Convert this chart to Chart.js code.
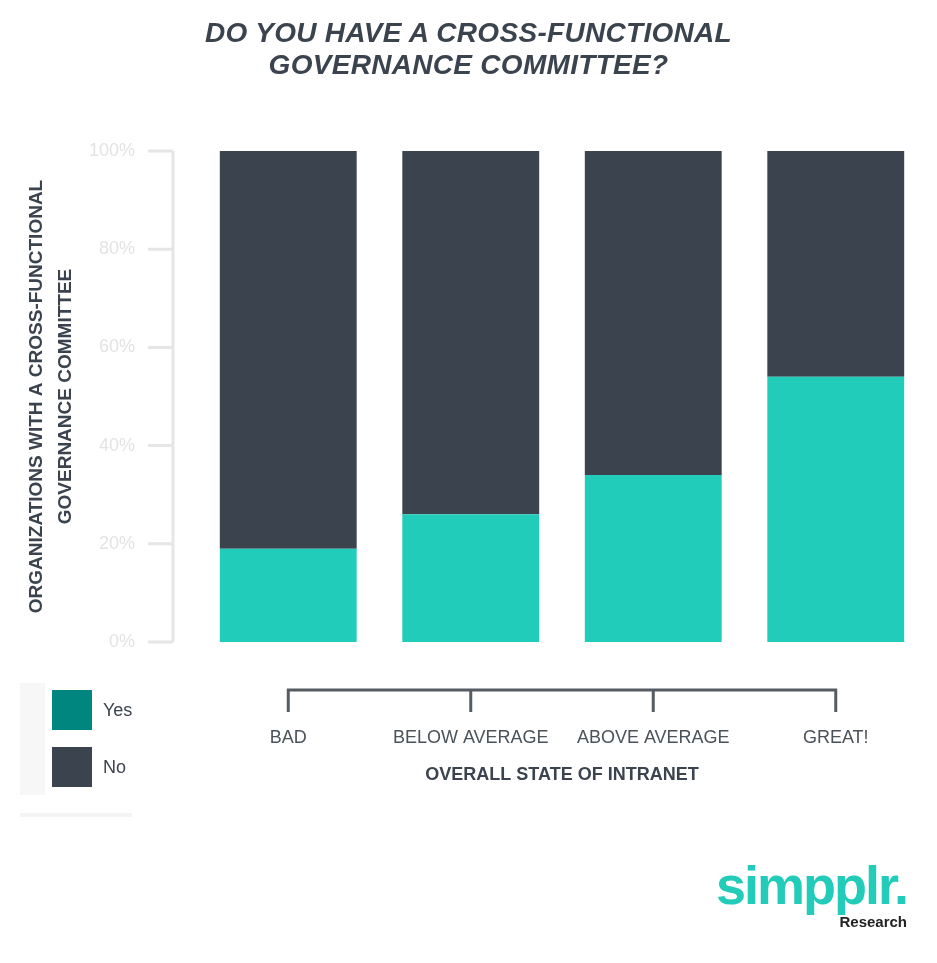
<!DOCTYPE html>
<html>
<head>
<meta charset="utf-8">
<script src="https://cdn.jsdelivr.net/npm/chart.js@4/dist/chart.umd.min.js"></script>
<style>
  body { margin: 0; background: #fff; font-family: "Liberation Sans", Arial, sans-serif; }
  #wrap { position: relative; width: 937px; height: 963px; }
  #chart { position: absolute; left: 0; top: 0; }
  h1 { position: absolute; top: 17px; left: 0; width: 937px; margin: 0; text-align: center;
       font: italic bold 28px "Liberation Sans", Arial, sans-serif; color: #3b444e; line-height: 32px; letter-spacing: 0.3px; }
  .panel { position: absolute; left: 20px; top: 683px; width: 25px; height: 112px; background: #f7f7f7; }
  .rule { position: absolute; left: 20px; top: 813px; width: 112px; height: 4px; background: #f4f4f4; }
  .sw { position: absolute; left: 52px; width: 40px; height: 40px; }
  .lt { position: absolute; left: 103px; font-size: 18px; color: #3b444e; }
  .logo { position: absolute; right: 30px; top: 855px; text-align: right; }
  .logo .s { font: bold 54px "Liberation Sans", Arial, sans-serif; color: #22ccb9; letter-spacing: -2px; line-height: 60px; }
  .logo .r { font: bold 15px "Liberation Sans", Arial, sans-serif; color: #222; margin-top: -2px; }
</style>
</head>
<body>
<div id="wrap">
  <canvas id="chart" width="937" height="963"></canvas>
  <h1>DO YOU HAVE A CROSS-FUNCTIONAL<br>GOVERNANCE COMMITTEE?</h1>
  <div class="panel"></div>
  <div class="rule"></div>
  <div class="sw" style="top:690px;background:#00857f"></div>
  <div class="lt" style="top:700px">Yes</div>
  <div class="sw" style="top:747px;background:#3b444e"></div>
  <div class="lt" style="top:757px">No</div>
  <div class="logo"><div class="s">simpplr.</div><div class="r">Research</div></div>
</div>
<script>
const categories = ["BAD", "BELOW AVERAGE", "ABOVE AVERAGE", "GREAT!"];
const yesValues = [19, 26, 34, 54];
const noValues = [81, 74, 66, 46];
const yTicks = [0, 20, 40, 60, 80, 100];

const axisPlugin = {
  id: "axisDecor",
  afterDraw(chart) {
    const ctx = chart.ctx, y = chart.scales.y, x = chart.scales.x;
    ctx.save();
    ctx.strokeStyle = "#e6e6e6";
    ctx.lineWidth = 3;
    ctx.beginPath();
    ctx.moveTo(173, y.getPixelForValue(100));
    ctx.lineTo(173, y.getPixelForValue(0));
    yTicks.forEach(t => {
      const py = y.getPixelForValue(t);
      ctx.moveTo(148, py);
      ctx.lineTo(173, py);
    });
    ctx.stroke();
    // category bracket
    ctx.strokeStyle = "#555c63";
    ctx.beginPath();
    const x0 = x.getPixelForValue(0), x3 = x.getPixelForValue(categories.length - 1);
    ctx.moveTo(x0, 712); ctx.lineTo(x0, 690); ctx.lineTo(x3, 690); ctx.lineTo(x3, 712);
    for (let i = 1; i < categories.length - 1; i++) {
      const px = x.getPixelForValue(i);
      ctx.moveTo(px, 690); ctx.lineTo(px, 712);
    }
    ctx.stroke();
    ctx.restore();
  }
};

new Chart(document.getElementById("chart").getContext("2d"), {
  type: "bar",
  data: {
    labels: categories,
    datasets: [
      { label: "Yes", data: yesValues, backgroundColor: "#22ccbb" },
      { label: "No", data: noValues, backgroundColor: "#3b444e" }
    ]
  },
  options: {
    responsive: false,
    animation: false,
    layout: { padding: { top: 151, right: 10, bottom: 141, left: 0 } },
    plugins: { legend: { display: false }, tooltip: { enabled: false } },
    datasets: { bar: { categoryPercentage: 1, barPercentage: 0.75 } },
    scales: {
      x: {
        stacked: true,
        afterFit: s => { s.height = 180; s.paddingLeft = 0; s.paddingRight = 0; },
        grid: { display: false, drawTicks: false },
        border: { display: false },
        ticks: { padding: 85, color: "#4a525a", font: { size: 18, family: "Liberation Sans" } },
        title: { display: true, text: "OVERALL STATE OF INTRANET", color: "#3b444e",
                 font: { size: 18, weight: "bold", family: "Liberation Sans" }, padding: { top: 0, bottom: 36 } }
      },
      y: {
        stacked: true,
        min: 0, max: 100,
        afterFit: s => { s.width = 197; },
        grid: { display: false, drawTicks: false },
        border: { display: false },
        ticks: { stepSize: 20, padding: 62, color: "#e3e3e3", font: { size: 18, family: "Liberation Sans" },
                 callback: v => v + "%" },
        title: { display: true, text: ["ORGANIZATIONS WITH A CROSS-FUNCTIONAL", "GOVERNANCE COMMITTEE"],
                 color: "#3b444e", font: { size: 19, weight: "bold", family: "Liberation Sans", lineHeight: 1.55 },
                 padding: { top: 22, bottom: 0 } }
      }
    }
  },
  plugins: [axisPlugin]
});
</script>
</body>
</html>
